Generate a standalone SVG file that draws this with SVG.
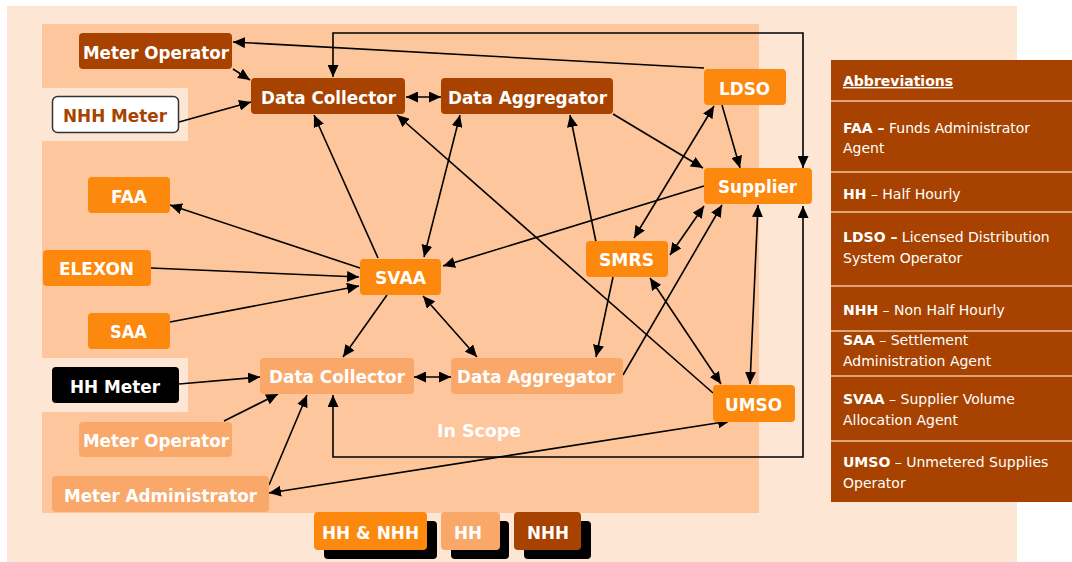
<svg xmlns="http://www.w3.org/2000/svg" width="1072" height="562" viewBox="0 0 1072 562">
<defs>
<style>
.dark{fill:#A84200}
.org{fill:#FD880E}
.lt{fill:#F9A86A}
.lbl{font-family:"DejaVu Sans",Verdana,sans-serif;font-weight:bold;font-size:18.5px;fill:#fff}
.ab{font-family:"DejaVu Sans",Verdana,sans-serif;font-size:14px;fill:#fff}
.ab tspan.b{font-weight:bold}
.sep{stroke:#F2C4A0;stroke-width:1.5}
.cn{fill:none;stroke:#000;stroke-width:1.6}
.e{marker-end:url(#ah)}
.s{marker-start:url(#ah)}
</style>
<marker id="ah" viewBox="0 0 12 11" refX="12" refY="5.5" markerWidth="12" markerHeight="11" markerUnits="userSpaceOnUse" orient="auto-start-reverse"><path d="M0,0 L12,5.5 L0,11 z" fill="#000"/></marker>
</defs>
<rect x="0" y="0" width="1072" height="562" fill="#fff"/>
<rect x="7" y="6" width="1010" height="556" fill="#FEE6D4"/>
<rect x="42" y="24" width="717" height="489" fill="#FDC69C"/>
<rect x="42" y="88" width="146" height="53" fill="#FEE6D4"/>
<rect x="42" y="358" width="146" height="54" fill="#FEE6D4"/>

<g id="abbreviations">
<rect x="831" y="60" width="241" height="442" fill="#A84200"/>
<line class="sep" x1="831" y1="101" x2="1072" y2="101"/>
<line class="sep" x1="831" y1="172" x2="1072" y2="172"/>
<line class="sep" x1="831" y1="212" x2="1072" y2="212"/>
<line class="sep" x1="831" y1="286" x2="1072" y2="286"/>
<line class="sep" x1="831" y1="331" x2="1072" y2="331"/>
<line class="sep" x1="831" y1="376" x2="1072" y2="376"/>
<line class="sep" x1="831" y1="441" x2="1072" y2="441"/>
<text class="ab" x="843" y="86" font-weight="bold" text-decoration="underline">Abbreviations</text>
<text class="ab" x="843" y="133"><tspan class="b">FAA –</tspan> Funds Administrator</text>
<text class="ab" x="843" y="153">Agent</text>
<text class="ab" x="843" y="199"><tspan class="b">HH</tspan> – Half Hourly</text>
<text class="ab" x="843" y="242"><tspan class="b">LDSO –</tspan> Licensed Distribution</text>
<text class="ab" x="843" y="263">System Operator</text>
<text class="ab" x="843" y="315"><tspan class="b">NHH</tspan> – Non Half Hourly</text>
<text class="ab" x="843" y="345"><tspan class="b">SAA</tspan> – Settlement</text>
<text class="ab" x="843" y="366">Administration Agent</text>
<text class="ab" x="843" y="404"><tspan class="b">SVAA</tspan> – Supplier Volume</text>
<text class="ab" x="843" y="425">Allocation Agent</text>
<text class="ab" x="843" y="467"><tspan class="b">UMSO</tspan> – Unmetered Supplies</text>
<text class="ab" x="843" y="488">Operator</text>
</g>

<g id="connectors">
<path class="cn e" d="M704,68 L233,42"/>
<path class="cn s e" d="M333,77 L333,33 L803,33 L803,168"/>
<path class="cn e" d="M233,69 L250,80"/>
<path class="cn e" d="M179,122 L251,102"/>
<path class="cn s e" d="M406,97 L441,97"/>
<path class="cn e" d="M378,258 L314,115"/>
<path class="cn s e" d="M460,115 L424,257"/>
<path class="cn e" d="M713,393 L397,115"/>
<path class="cn e" d="M596,242 L570,115"/>
<path class="cn e" d="M613,114 L703,168"/>
<path class="cn e" d="M722,105 L740,168"/>
<path class="cn s e" d="M714,106 L634,238"/>
<path class="cn e" d="M704,186 L443,266"/>
<path class="cn s e" d="M670,255 L704,206"/>
<path class="cn e" d="M623,375 L722,205"/>
<path class="cn s e" d="M758,205 L750,384"/>
<path class="cn s e" d="M333,395 L333,457 L803,457 L803,206"/>
<path class="cn s e" d="M650,278 L721,384"/>
<path class="cn e" d="M613,277 L596,357"/>
<path class="cn e" d="M360,268 L170,205"/>
<path class="cn e" d="M151,268 L359,277"/>
<path class="cn e" d="M170,322 L359,286"/>
<path class="cn e" d="M387,295 L343,357"/>
<path class="cn s e" d="M423,296 L477,357"/>
<path class="cn s e" d="M414,377 L451,377"/>
<path class="cn e" d="M179,384 L260,377"/>
<path class="cn e" d="M224,421 L278,394"/>
<path class="cn e" d="M269,485 L307,395"/>
<path class="cn s e" d="M730,421 L269,493"/>
</g>

<g id="meter-operator-nhh"><rect class="dark" x="79" y="33" width="153" height="36" rx="4"/><text class="lbl" x="83" y="59" textLength="146" lengthAdjust="spacingAndGlyphs">Meter Operator</text></g>
<g id="data-collector-nhh"><rect class="dark" x="251" y="78" width="154" height="36" rx="4"/><text class="lbl" x="261" y="104" textLength="135" lengthAdjust="spacingAndGlyphs">Data Collector</text></g>
<g id="data-aggregator-nhh"><rect class="dark" x="441" y="78" width="172" height="36" rx="4"/><text class="lbl" x="448" y="104" textLength="159" lengthAdjust="spacingAndGlyphs">Data Aggregator</text></g>
<g id="nhh-meter"><rect x="52.5" y="96.5" width="126" height="36" rx="5" fill="#fff" stroke="#333" stroke-width="1.5"/><text class="lbl" x="63" y="122" textLength="104" lengthAdjust="spacingAndGlyphs" style="fill:#A84200">NHH Meter</text></g>
<g id="ldso"><rect class="org" x="704" y="69" width="82" height="36" rx="4"/><text class="lbl" x="719" y="95" textLength="51" lengthAdjust="spacingAndGlyphs">LDSO</text></g>
<g id="supplier"><rect class="org" x="704" y="168" width="108" height="36" rx="4"/><text class="lbl" x="718" y="193" textLength="79" lengthAdjust="spacingAndGlyphs">Supplier</text></g>
<g id="faa"><rect class="org" x="88" y="177" width="82" height="36" rx="4"/><text class="lbl" x="111" y="203" textLength="36" lengthAdjust="spacingAndGlyphs">FAA</text></g>
<g id="elexon"><rect class="org" x="43" y="250" width="108" height="36" rx="4"/><text class="lbl" x="59" y="275" textLength="75" lengthAdjust="spacingAndGlyphs">ELEXON</text></g>
<g id="saa"><rect class="org" x="88" y="313" width="82" height="36" rx="4"/><text class="lbl" x="110" y="338" textLength="37" lengthAdjust="spacingAndGlyphs">SAA</text></g>
<g id="svaa"><rect class="org" x="360" y="259" width="81" height="36" rx="4"/><text class="lbl" x="375" y="284" textLength="51" lengthAdjust="spacingAndGlyphs">SVAA</text></g>
<g id="smrs"><rect class="org" x="586" y="241" width="82" height="36" rx="4"/><text class="lbl" x="599" y="266" textLength="55" lengthAdjust="spacingAndGlyphs">SMRS</text></g>
<g id="umso"><rect class="org" x="713" y="385" width="82" height="37" rx="4"/><text class="lbl" x="725" y="411" textLength="57" lengthAdjust="spacingAndGlyphs">UMSO</text></g>
<g id="data-collector-hh"><rect class="lt" x="260" y="358" width="154" height="36" rx="4"/><text class="lbl" x="269" y="383" textLength="136" lengthAdjust="spacingAndGlyphs">Data Collector</text></g>
<g id="data-aggregator-hh"><rect class="lt" x="451" y="358" width="172" height="36" rx="4"/><text class="lbl" x="457" y="383" textLength="158" lengthAdjust="spacingAndGlyphs">Data Aggregator</text></g>
<g id="hh-meter"><rect x="52" y="367" width="127" height="36" rx="4" fill="#000"/><text class="lbl" x="70" y="393" textLength="90" lengthAdjust="spacingAndGlyphs">HH Meter</text></g>
<g id="meter-operator-hh"><rect class="lt" x="79" y="422" width="153" height="35" rx="4"/><text class="lbl" x="83" y="447" textLength="146" lengthAdjust="spacingAndGlyphs">Meter Operator</text></g>
<g id="meter-administrator"><rect class="lt" x="52" y="476" width="217" height="36" rx="4"/><text class="lbl" x="64" y="502" textLength="193" lengthAdjust="spacingAndGlyphs">Meter Administrator</text></g>
<g id="in-scope"><text class="lbl" x="437" y="437" textLength="84" lengthAdjust="spacingAndGlyphs">In Scope</text></g>

<g id="legend">
<rect x="324" y="521" width="113" height="38" rx="4" fill="#000"/>
<rect class="org" x="314" y="512" width="113" height="38" rx="4"/>
<text class="lbl" x="322" y="539" textLength="97" lengthAdjust="spacingAndGlyphs">HH &amp; NHH</text>
<rect x="451" y="521" width="58" height="38" rx="4" fill="#000"/>
<rect class="lt" x="441" y="512" width="59" height="38" rx="4"/>
<text class="lbl" x="454" y="539" textLength="28" lengthAdjust="spacingAndGlyphs">HH</text>
<rect x="524" y="521" width="67" height="38" rx="4" fill="#000"/>
<rect class="dark" x="514" y="512" width="67" height="38" rx="4"/>
<text class="lbl" x="527" y="539" textLength="42" lengthAdjust="spacingAndGlyphs">NHH</text>
</g>
</svg>
